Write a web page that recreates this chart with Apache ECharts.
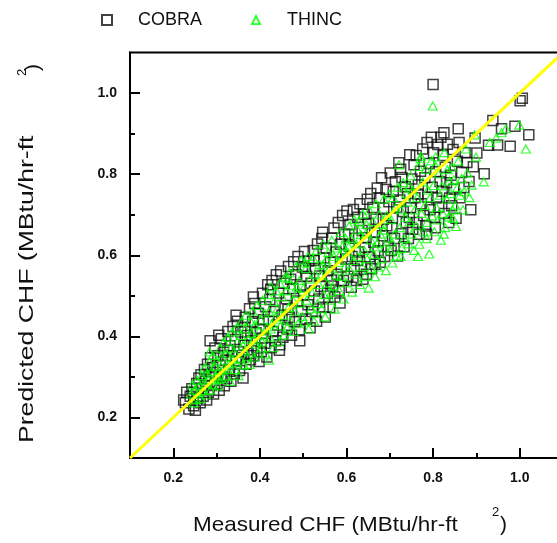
<!DOCTYPE html>
<html><head><meta charset="utf-8">
<script src="https://cdn.jsdelivr.net/npm/echarts@6/dist/echarts.min.js"></script>
<style>html,body{margin:0;padding:0;background:#fff}#c{width:557px;height:543px}</style>
</head><body><div id="c"></div>
<script>
const cobra = [
[0.224,0.243],[0.231,0.262],[0.236,0.221],[0.239,0.252],[0.228,0.236],
[0.243,0.271],[0.247,0.229],[0.251,0.218],[0.254,0.284],[0.257,0.248],[0.259,0.297],[0.246,0.262],
[0.262,0.236],[0.264,0.305],[0.267,0.271],[0.269,0.252],[0.272,0.318],[0.274,0.289],[0.277,0.243],[0.279,0.331],
[0.281,0.262],[0.283,0.302],[0.286,0.347],[0.288,0.279],[0.291,0.323],[0.293,0.258],[0.296,0.371],[0.298,0.311],[0.285,0.389],
[0.301,0.283],[0.303,0.352],[0.306,0.267],[0.308,0.329],[0.311,0.394],[0.313,0.301],[0.316,0.361],[0.318,0.278],[0.305,0.403],
[0.321,0.341],[0.323,0.296],[0.326,0.412],[0.328,0.318],[0.331,0.377],[0.333,0.289],[0.336,0.352],[0.338,0.424],[0.325,0.366],
[0.341,0.307],[0.343,0.392],[0.346,0.338],[0.348,0.437],[0.351,0.362],[0.353,0.316],[0.356,0.411],[0.358,0.348],[0.345,0.452],
[0.361,0.297],[0.363,0.378],[0.366,0.447],[0.368,0.331],[0.371,0.402],[0.373,0.358],[0.376,0.468],[0.378,0.342],[0.365,0.421],
[0.381,0.389],[0.383,0.436],[0.386,0.352],[0.388,0.481],[0.391,0.409],[0.393,0.371],[0.396,0.457],[0.398,0.338],[0.385,0.497],
[0.401,0.418],[0.403,0.362],[0.406,0.506],[0.408,0.441],[0.411,0.383],[0.413,0.473],[0.416,0.349],[0.418,0.527],[0.405,0.396],
[0.421,0.437],[0.423,0.491],[0.426,0.372],[0.428,0.538],[0.431,0.412],[0.433,0.461],[0.436,0.389],[0.438,0.552],[0.425,0.516],
[0.441,0.428],[0.443,0.507],[0.446,0.379],[0.448,0.561],[0.451,0.452],[0.453,0.398],[0.456,0.531],[0.458,0.476],[0.445,0.366],
[0.461,0.493],[0.463,0.418],[0.466,0.572],[0.468,0.447],[0.471,0.541],[0.473,0.403],[0.476,0.518],[0.478,0.584],[0.465,0.466],
[0.481,0.436],[0.483,0.552],[0.486,0.487],[0.488,0.597],[0.491,0.416],[0.493,0.523],[0.496,0.462],[0.498,0.571],[0.492,0.389],
[0.501,0.502],[0.503,0.609],[0.506,0.443],[0.508,0.548],[0.511,0.478],[0.513,0.586],[0.516,0.421],[0.518,0.531],[0.505,0.568],
[0.521,0.461],[0.523,0.612],[0.526,0.512],[0.528,0.567],[0.531,0.437],[0.533,0.628],[0.536,0.492],[0.538,0.549],[0.525,0.587],
[0.541,0.523],[0.543,0.641],[0.546,0.472],[0.548,0.593],[0.551,0.448],[0.553,0.618],[0.556,0.506],[0.558,0.562],[0.545,0.657],
[0.561,0.471],[0.563,0.583],[0.566,0.642],[0.568,0.524],[0.571,0.667],[0.573,0.497],[0.576,0.608],[0.578,0.553],[0.565,0.539],
[0.581,0.681],[0.583,0.512],[0.586,0.627],[0.588,0.571],[0.591,0.698],[0.593,0.538],[0.596,0.652],[0.598,0.591],[0.585,0.482],
[0.601,0.709],[0.603,0.548],[0.606,0.623],[0.608,0.676],[0.611,0.521],[0.613,0.597],[0.616,0.713],[0.618,0.566],[0.605,0.651],
[0.621,0.642],[0.623,0.538],[0.626,0.694],[0.628,0.608],[0.631,0.727],[0.633,0.572],[0.636,0.661],[0.638,0.541],[0.625,0.587],
[0.641,0.701],[0.643,0.619],[0.646,0.553],[0.648,0.738],[0.651,0.678],[0.653,0.596],[0.656,0.752],[0.658,0.567],[0.645,0.643],
[0.661,0.718],[0.663,0.632],[0.666,0.578],[0.668,0.689],[0.671,0.766],[0.673,0.611],[0.676,0.741],[0.678,0.583],[0.665,0.657],
[0.681,0.791],[0.683,0.648],[0.686,0.716],[0.688,0.597],[0.691,0.762],[0.693,0.673],[0.696,0.621],[0.698,0.732],[0.685,0.689],
[0.701,0.803],[0.703,0.612],[0.706,0.692],[0.708,0.758],[0.711,0.641],[0.713,0.781],[0.716,0.719],[0.718,0.598],[0.705,0.667],
[0.721,0.828],[0.723,0.736],[0.726,0.653],[0.728,0.792],[0.731,0.708],[0.733,0.621],[0.736,0.769],[0.738,0.681],[0.725,0.812],
[0.741,0.752],[0.743,0.641],[0.746,0.848],[0.748,0.717],[0.751,0.788],[0.753,0.664],[0.756,0.823],[0.758,0.742],[0.745,0.693],
[0.761,0.846],[0.763,0.681],[0.766,0.773],[0.768,0.652],[0.771,0.807],[0.773,0.727],[0.776,0.862],[0.778,0.698],[0.765,0.751],
[0.781,0.791],[0.783,0.672],[0.786,0.878],[0.788,0.743],[0.791,0.826],[0.793,0.712],[0.796,0.891],[0.798,0.768],[0.785,0.652],[0.800,1.021],
[0.801,0.853],[0.803,0.694],[0.806,0.806],[0.808,0.741],[0.811,0.873],[0.813,0.719],[0.816,0.782],[0.818,0.891],[0.805,0.668],
[0.821,0.758],[0.823,0.846],[0.826,0.703],[0.828,0.817],[0.831,0.779],[0.833,0.874],[0.836,0.681],[0.838,0.741],[0.825,0.902],
[0.841,0.797],[0.843,0.722],[0.846,0.861],[0.848,0.763],[0.853,0.691],[0.856,0.832],[0.858,0.912],[0.860,0.878],[0.862,0.742],
[0.866,0.804],[0.871,0.767],[0.874,0.853],[0.878,0.829],[0.883,0.782],[0.887,0.712],[0.893,0.818],[0.897,0.889],[0.901,0.852],[0.918,0.801],
[0.928,0.871],[0.938,0.932],[0.949,0.872],[0.958,0.912],[0.978,0.869],[0.989,0.918],[1.001,0.981],[1.006,0.987],[1.021,0.897]
];
const thinc = [
[0.241,0.258],[0.244,0.281],[0.247,0.236],[0.249,0.267],[0.252,0.244],[0.255,0.292],[0.258,0.261],
[0.261,0.278],[0.263,0.247],[0.266,0.303],[0.268,0.266],[0.271,0.321],[0.273,0.283],[0.276,0.256],[0.278,0.309],
[0.281,0.292],[0.283,0.337],[0.286,0.268],[0.288,0.314],[0.291,0.353],[0.293,0.281],[0.296,0.326],[0.298,0.302],[0.284,0.362],
[0.301,0.341],[0.303,0.278],[0.306,0.318],[0.308,0.371],[0.311,0.297],[0.313,0.349],[0.316,0.386],[0.318,0.323],[0.305,0.294],
[0.321,0.302],[0.323,0.357],[0.326,0.398],[0.328,0.332],[0.331,0.289],[0.333,0.371],[0.336,0.411],[0.338,0.343],[0.325,0.318],
[0.341,0.362],[0.343,0.318],[0.346,0.421],[0.348,0.386],[0.351,0.303],[0.353,0.346],[0.356,0.402],[0.358,0.437],[0.345,0.336],
[0.361,0.377],[0.363,0.329],[0.366,0.419],[0.368,0.452],[0.371,0.351],[0.373,0.393],[0.376,0.331],[0.378,0.438],[0.365,0.364],
[0.381,0.407],[0.383,0.462],[0.386,0.349],[0.388,0.428],[0.391,0.381],[0.393,0.476],[0.396,0.359],[0.398,0.413],[0.385,0.391],
[0.401,0.441],[0.403,0.372],[0.406,0.489],[0.408,0.403],[0.411,0.457],[0.413,0.356],[0.416,0.423],[0.418,0.503],[0.405,0.386],[0.421,0.341],
[0.421,0.462],[0.423,0.398],[0.426,0.523],[0.428,0.431],[0.431,0.372],[0.433,0.486],[0.436,0.447],[0.438,0.512],[0.425,0.418],
[0.441,0.469],[0.443,0.387],[0.446,0.531],[0.448,0.426],[0.451,0.498],[0.453,0.452],[0.456,0.403],[0.458,0.546],[0.445,0.441],
[0.461,0.512],[0.463,0.421],[0.466,0.471],[0.468,0.557],[0.471,0.438],[0.473,0.526],[0.476,0.489],[0.478,0.412],[0.465,0.543],
[0.481,0.462],[0.483,0.571],[0.486,0.506],[0.488,0.431],[0.491,0.538],[0.493,0.482],[0.496,0.588],[0.498,0.449],[0.485,0.521],
[0.501,0.519],[0.503,0.436],[0.506,0.567],[0.508,0.489],[0.511,0.597],[0.513,0.418],[0.516,0.541],[0.518,0.468],[0.505,0.581],
[0.521,0.508],[0.523,0.592],[0.526,0.457],[0.528,0.553],[0.531,0.612],[0.533,0.481],[0.536,0.528],[0.538,0.577],[0.525,0.438],
[0.541,0.551],[0.543,0.468],[0.546,0.627],[0.548,0.503],[0.551,0.448],[0.553,0.589],[0.556,0.531],[0.558,0.607],[0.545,0.576],
[0.561,0.568],[0.563,0.489],[0.566,0.637],[0.568,0.524],[0.571,0.597],[0.573,0.467],[0.576,0.551],[0.578,0.618],[0.565,0.509],
[0.581,0.582],[0.583,0.513],[0.586,0.656],[0.588,0.548],[0.591,0.623],[0.593,0.492],[0.596,0.571],[0.598,0.642],[0.585,0.602],
[0.601,0.532],[0.603,0.608],[0.606,0.672],[0.608,0.563],[0.611,0.641],[0.613,0.509],[0.616,0.587],[0.618,0.688],[0.605,0.621],
[0.621,0.553],[0.623,0.628],[0.626,0.597],[0.628,0.683],[0.631,0.528],[0.633,0.651],[0.636,0.572],[0.638,0.702],[0.625,0.663],
[0.641,0.612],[0.643,0.548],[0.646,0.676],[0.648,0.591],[0.651,0.519],[0.653,0.711],[0.656,0.638],[0.658,0.567],[0.645,0.654],
[0.661,0.683],[0.663,0.602],[0.666,0.547],[0.668,0.727],[0.671,0.629],[0.673,0.571],[0.676,0.701],[0.678,0.652],[0.665,0.621],
[0.681,0.591],[0.683,0.676],[0.686,0.738],[0.688,0.618],[0.691,0.562],[0.693,0.698],[0.696,0.643],[0.698,0.751],[0.685,0.662],
[0.701,0.611],[0.703,0.688],[0.706,0.581],[0.708,0.742],[0.711,0.652],[0.713,0.717],[0.716,0.598],[0.718,0.768],[0.705,0.632],
[0.721,0.823],[0.723,0.668],[0.726,0.712],[0.728,0.617],[0.731,0.779],[0.733,0.641],[0.736,0.693],[0.738,0.752],[0.725,0.597],
[0.741,0.731],[0.743,0.628],[0.746,0.683],[0.748,0.796],[0.751,0.652],[0.753,0.761],[0.756,0.612],[0.758,0.712],[0.745,0.771],
[0.761,0.672],[0.763,0.742],[0.766,0.819],[0.768,0.627],[0.771,0.838],[0.773,0.703],[0.776,0.781],[0.778,0.658],[0.765,0.597],[0.772,0.844],
[0.781,0.723],[0.783,0.812],[0.786,0.681],[0.788,0.761],[0.791,0.603],[0.793,0.742],[0.796,0.833],[0.798,0.697],[0.785,0.641],[0.799,0.968],
[0.801,0.772],[0.803,0.658],[0.806,0.843],[0.808,0.718],[0.811,0.687],[0.813,0.801],[0.816,0.748],[0.818,0.637],[0.805,0.822],
[0.821,0.771],[0.823,0.702],[0.826,0.853],[0.828,0.668],[0.831,0.738],[0.833,0.811],[0.836,0.694],[0.838,0.783],[0.825,0.652],
[0.841,0.752],[0.843,0.817],[0.846,0.691],[0.848,0.786],[0.851,0.723],[0.853,0.671],[0.856,0.767],[0.858,0.832],[0.845,0.712],
[0.862,0.748],[0.866,0.789],[0.869,0.712],[0.872,0.757],[0.876,0.862],[0.879,0.803],[0.884,0.742],[0.889,0.773],[0.896,0.897],[0.899,0.842],[0.917,0.781],
[0.931,0.878],[0.946,0.889],[0.958,0.902],[0.968,0.912],[0.999,0.921],[1.014,0.862]
];
const refLine = [[0.1,0.1],[1.1,1.1]];
const majorTicks = [0.2,0.4,0.6,0.8,1.0];
const minorTicks = [0.3,0.5,0.7,0.9];
const FONT = '"Liberation Sans", Arial, Helvetica, sans-serif';

const chart = echarts.init(document.getElementById('c'), null, {renderer:'canvas'});
const majorAxis = (isY) => ({
  type:'value', min:0.1, max:1.1,
  position: isY ? 'left' : 'bottom',
  axisLine:{show:true, lineStyle:{color:'#000', width:2}},
  axisTick:{show:true, inside:true, length:10, customValues:majorTicks, lineStyle:{color:'#000', width:2}},
  axisLabel:{show:true, customValues:majorTicks, formatter:(v)=>Number(v).toFixed(1),
    fontFamily:FONT, fontWeight:'bold', fontSize:14, color:'#111', margin:13},
  splitLine:{show:false}
});
const minorAxis = (isY) => ({
  type:'value', min:0.1, max:1.1,
  position: isY ? 'left' : 'bottom',
  axisLine:{show:false},
  axisTick:{show:true, inside:true, length:5, customValues:minorTicks, lineStyle:{color:'#000', width:2}},
  axisLabel:{show:false},
  splitLine:{show:false}
});
chart.setOption({
  animation:false,
  backgroundColor:'#fff',
  grid:{left:130, top:52.5, right:-6, bottom:85, show:true, borderColor:'#000', borderWidth:2, outerBoundsMode:'none', containLabel:false},
  xAxis:[majorAxis(false), minorAxis(false)],
  yAxis:[majorAxis(true), minorAxis(true)],
  legend:[
    {data:['COBRA'], left:101, top:11, padding:0, itemWidth:10, itemHeight:10, itemGap:0,
     textStyle:{fontFamily:FONT, fontSize:18, color:'#111', padding:[0,0,0,21]}},
    {data:['THINC'], left:251, top:11, padding:0, itemWidth:8, itemHeight:8, itemGap:0,
     textStyle:{fontFamily:FONT, fontSize:18, color:'#111', padding:[0,0,0,22]}}
  ],
  series:[
    {name:'COBRA', type:'scatter', data:cobra, symbol:'rect', symbolSize:10, z:2,
     itemStyle:{color:'rgba(0,0,0,0)', borderColor:'#111', borderWidth:1.5},
     emphasis:{disabled:true}, silent:true},
    {name:'THINC', type:'scatter', data:thinc, symbol:'triangle', symbolSize:[9,8], z:3,
     itemStyle:{color:'rgba(0,0,0,0)', borderColor:'#00ff00', borderWidth:1.2},
     emphasis:{disabled:true}, silent:true},
    {name:'ref', type:'line', data:refLine, symbol:'none', z:4, silent:true,
     lineStyle:{color:'#ffff00', width:3}, clip:true}
  ],
  graphic:[
    {type:'text', x:193, y:525, scaleX:1.07, silent:true,
     style:{text:'Measured CHF (MBtu/hr-ft', font:'21px '+FONT, fill:'#111', align:'left', verticalAlign:'middle'}},
    {type:'text', x:492, y:512, silent:true,
     style:{text:'2', font:'13px '+FONT, fill:'#111', align:'left', verticalAlign:'middle'}},
    {type:'text', x:500, y:525, silent:true,
     style:{text:')', font:'21px '+FONT, fill:'#111', align:'left', verticalAlign:'middle'}},
    {type:'text', x:27, y:443, rotation:Math.PI/2, scaleX:1.33, silent:true,
     style:{text:'Predicted CHF (MBtu/hr-ft', font:'20px '+FONT, fill:'#111', align:'left', verticalAlign:'middle'}},
    {type:'text', x:22, y:76, rotation:Math.PI/2, silent:true,
     style:{text:'2', font:'13px '+FONT, fill:'#111', align:'left', verticalAlign:'middle'}},
    {type:'text', x:33, y:71, rotation:Math.PI/2, silent:true,
     style:{text:')', font:'21px '+FONT, fill:'#111', align:'left', verticalAlign:'middle'}}
  ]
});
</script></body></html>
